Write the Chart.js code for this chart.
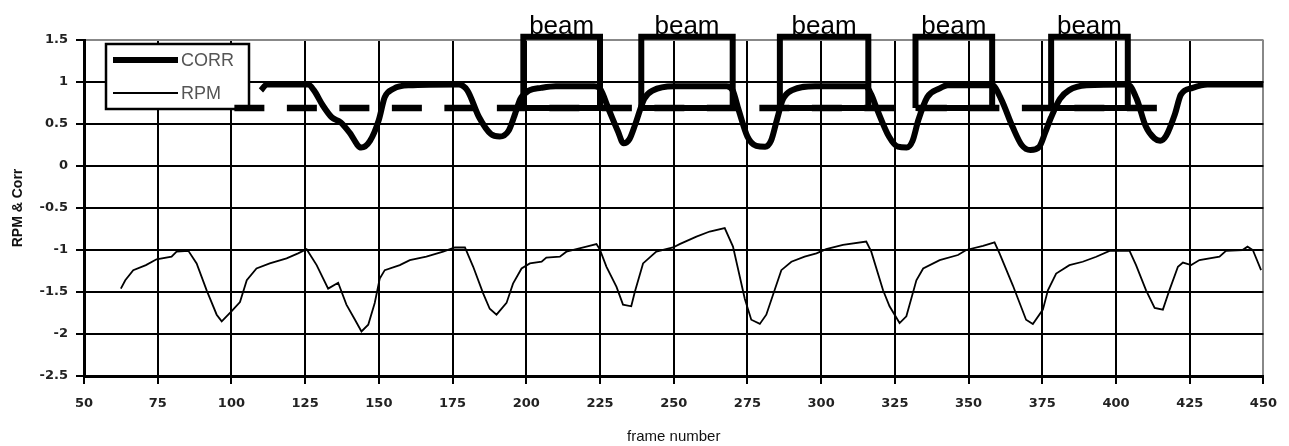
<!DOCTYPE html>
<html>
<head>
<meta charset="utf-8">
<script src="https://cdn.jsdelivr.net/npm/chart.js@4.4.0/dist/chart.umd.min.js"></script>
<style>
  html, body { margin: 0; padding: 0; background: #fff; }
  #wrap { width: 1289px; height: 446px; }
</style>
</head>
<body>
<div id="wrap"><canvas id="grafico"></canvas></div>
<script>
// limites dos eixos
const xMin = 50, xMax = 450, xStep = 25;
const yMin = -2.5, yMax = 1.5, yStep = 0.5;

// curva CORR (linha grossa)
const corrFrames = [110, 112, 126, 128, 131, 134, 137, 140, 144, 147, 150, 152, 155, 160, 177,
  180, 184, 188, 191, 194, 196, 198, 201, 205, 210, 223,
  225, 228, 231, 233, 235, 237, 240, 243, 250, 268,
  270, 272, 275, 278, 281, 283, 285, 287, 290, 298, 315,
  317, 319, 323, 326, 329, 331, 333, 336, 340, 343, 358,
  361, 365, 368, 371, 374, 376, 378, 381, 384, 390, 404,
  407, 410, 413, 415, 417, 420, 422, 426, 431, 450];
const corrValues = [0.90, 0.97, 0.97, 0.90, 0.72, 0.58, 0.52, 0.40, 0.22, 0.30, 0.55, 0.82, 0.92, 0.96, 0.97,
  0.90, 0.58, 0.38, 0.35, 0.42, 0.60, 0.80, 0.90, 0.93, 0.95, 0.95,
  0.92, 0.67, 0.42, 0.27, 0.32, 0.50, 0.80, 0.90, 0.95, 0.95,
  0.90, 0.67, 0.35, 0.24, 0.23, 0.30, 0.55, 0.79, 0.90, 0.95, 0.95,
  0.85, 0.67, 0.35, 0.23, 0.22, 0.30, 0.55, 0.82, 0.92, 0.96, 0.96,
  0.80, 0.46, 0.25, 0.19, 0.23, 0.40, 0.58, 0.80, 0.90, 0.96, 0.97,
  0.80, 0.48, 0.33, 0.30, 0.36, 0.62, 0.85, 0.93, 0.97, 0.97];

// curva RPM (linha fina)
const rpmFrames = [62.5, 64, 66.7, 71, 74.6, 79.7, 81.4, 85.4, 88.2, 91.6, 95, 96.7, 100, 102.9, 105.2,
  108.5, 113, 118.7, 122.6, 125.5, 128.9, 132.8, 136.2, 139, 141.9, 144.1, 146.4, 148.6, 150.3,
  152, 157.1, 160.5, 166.1, 171.8, 175.8, 179.2, 182, 185.4, 187.6, 189.9, 193.3, 195.5, 198.4,
  201.2, 205.2, 206.8, 211.4, 213.6, 220.4, 223.8, 224.9, 227.2, 230.6, 232.8, 235.6, 236.8,
  239.6, 244.1, 249.8, 252, 257.7, 262.2, 267.3, 270.1, 274.1, 276.3, 279.2, 281.4, 284.2,
  286.5, 289.9, 294.4, 298.4, 301.7, 307.4, 315.3, 317, 321, 323.2, 326.6, 328.9, 332.3,
  334.6, 340.2, 346.4, 349.2, 354.9, 358.8, 360.5, 365, 369.5, 371.8, 375.2, 376.9, 379.7,
  384.2, 388.7, 393.3, 397.8, 404.6, 406.8, 410.2, 413.1, 415.9, 418.1, 421, 422.7, 425.5,
  428.3, 435.1, 437.3, 442.9, 444.6, 446.4, 449.2];
const rpmValues = [-1.46, -1.36, -1.24, -1.18, -1.11, -1.08, -1.02, -1.01, -1.16, -1.48, -1.77, -1.85, -1.73, -1.62, -1.36,
  -1.22, -1.16, -1.10, -1.04, -0.99, -1.18, -1.46, -1.39, -1.65, -1.83, -1.97, -1.89, -1.63, -1.34,
  -1.24, -1.18, -1.12, -1.08, -1.02, -0.97, -0.97, -1.20, -1.52, -1.70, -1.77, -1.63, -1.40, -1.22,
  -1.16, -1.14, -1.09, -1.08, -1.02, -0.96, -0.93, -0.99, -1.20, -1.44, -1.65, -1.67, -1.50,
  -1.16, -1.02, -0.97, -0.93, -0.84, -0.78, -0.74, -0.96, -1.58, -1.83, -1.88, -1.77, -1.48,
  -1.24, -1.14, -1.08, -1.04, -0.99, -0.94, -0.90, -1.02, -1.48, -1.67, -1.87, -1.79, -1.36,
  -1.22, -1.12, -1.06, -1.00, -0.95, -0.91, -1.04, -1.42, -1.83, -1.88, -1.71, -1.48, -1.28,
  -1.18, -1.14, -1.08, -1.01, -1.01, -1.18, -1.48, -1.69, -1.71, -1.48, -1.20, -1.15, -1.18,
  -1.12, -1.08, -1.01, -1.00, -0.96, -1.00, -1.24];

// caixas "beam" e linha tracejada
const beamStart = [199, 239, 286, 332, 378];
const beamEnd = [225, 270, 316, 358, 404];
const beamLow = 0.69;
const beamHigh = 1.54;
const beamLabel = "beam";
const gateFrames = [101, 416];
const gateValues = [0.69, 0.69];

const pts = (xs, ys) => xs.map((x, i) => ({ x: x, y: ys[i] }));

const datasets = [
  {
    label: "CORR",
    data: pts(corrFrames, corrValues),
    borderColor: "#000",
    borderWidth: 6,
    pointRadius: 0,
    cubicInterpolationMode: "monotone",
    naLegenda: true,
  },
  {
    label: "RPM",
    data: pts(rpmFrames, rpmValues),
    borderColor: "#000",
    borderWidth: 1.8,
    pointRadius: 0,
    tension: 0,
    naLegenda: true,
  },
  {
    label: "gate",
    data: pts(gateFrames, gateValues),
    borderColor: "#000",
    borderWidth: 6.5,
    borderDash: [30, 22.5],
    borderCapStyle: "butt",
    pointRadius: 0,
  },
];

beamStart.forEach((s, i) => {
  const e = beamEnd[i];
  datasets.push({
    label: "beam" + i,
    data: pts([s, s, e, e, s], [beamLow, beamHigh, beamHigh, beamLow, beamLow]),
    borderColor: "#000",
    borderWidth: 6,
    borderJoinStyle: "miter",
    pointRadius: 0,
    tension: 0,
    clip: 10,
  });
});

// legenda desenhada dentro da area do grafico
const legendaBox = {
  id: "legendaBox",
  beforeDatasetsDraw(chart) {
    const { ctx, chartArea } = chart;
    const x = chartArea.left + 22, y = chartArea.top + 4, w = 143, h = 65;
    ctx.save();
    ctx.fillStyle = "#fff";
    ctx.fillRect(x, y, w, h);
    ctx.lineWidth = 2.5;
    ctx.strokeStyle = "#000";
    ctx.strokeRect(x, y, w, h);
    chart.data.datasets.filter((d) => d.naLegenda).forEach((d, i) => {
      const ly = y + 16 + i * 33;
      ctx.lineWidth = d.borderWidth;
      ctx.beginPath();
      ctx.moveTo(x + 7, ly);
      ctx.lineTo(x + 72, ly);
      ctx.stroke();
      ctx.fillStyle = "#555";
      ctx.font = '18px "Liberation Sans", Arial, sans-serif';
      ctx.textBaseline = "middle";
      ctx.fillText(d.label, x + 75, ly + 1);
    });
    ctx.restore();
  },
};

// textos "beam" acima das caixas
const beamTextos = {
  id: "beamTextos",
  afterDatasetsDraw(chart) {
    const { ctx, scales } = chart;
    ctx.save();
    ctx.fillStyle = "#000";
    ctx.font = '26px "Liberation Sans", Arial, sans-serif';
    ctx.textAlign = "center";
    ctx.textBaseline = "alphabetic";
    beamStart.forEach((s, i) => {
      const cx = scales.x.getPixelForValue((s + beamEnd[i]) / 2);
      const cy = scales.y.getPixelForValue(beamHigh) - 3;
      ctx.fillText(beamLabel, cx, cy);
    });
    ctx.restore();
  },
};

const tickFont = { family: '"DejaVu Sans", sans-serif', size: 13, weight: "bold" };

new Chart(document.getElementById("grafico"), {
  type: "line",
  data: { datasets: datasets },
  options: {
    responsive: true,
    maintainAspectRatio: false,
    animation: false,
    layout: { padding: { top: 40, right: 25, left: 0, bottom: 0 } },
    plugins: {
      legend: { display: false },
      tooltip: { enabled: false },
    },
    scales: {
      x: {
        type: "linear",
        min: xMin,
        max: xMax,
        afterFit: (s) => { s.height = 70; },
        ticks: {
          stepSize: xStep,
          maxRotation: 0,
          autoSkip: false,
          color: "#222",
          font: tickFont,
          padding: 12,
        },
        grid: {
          color: (c) => (c.tick && c.tick.value === xMax ? "#888" : "#000"),
          lineWidth: 2,
          tickColor: "#000",
          tickLength: 8,
        },
        border: { color: "#000", width: 3 },
        title: {
          display: true,
          text: "frame number",
          color: "#111",
          font: { family: '"Liberation Sans", Arial, sans-serif', size: 15 },
          padding: { top: 0, bottom: 0 },
        },
      },
      y: {
        min: yMin,
        max: yMax,
        afterFit: (s) => { s.width = 84; },
        ticks: {
          stepSize: yStep,
          color: "#222",
          font: tickFont,
          padding: 8,
          callback: (v) => String(v),
        },
        grid: {
          color: (c) => (c.tick && c.tick.value === yMax ? "#888" : "#000"),
          lineWidth: 2,
          tickColor: "#000",
          tickLength: 8,
        },
        border: { color: "#000", width: 3 },
        title: {
          display: true,
          text: "RPM & Corr",
          color: "#111",
          font: { family: '"Liberation Sans", Arial, sans-serif', size: 14, weight: "bold" },
          padding: { top: 10, bottom: 0 },
        },
      },
    },
  },
  plugins: [legendaBox, beamTextos],
});
</script>
</body>
</html>
